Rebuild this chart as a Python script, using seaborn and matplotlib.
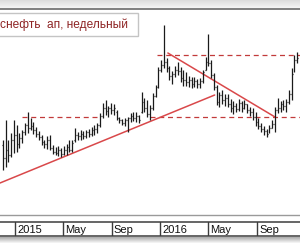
import numpy as np
import pandas as pd
import matplotlib
matplotlib.use("Agg")
import matplotlib.pyplot as plt
import matplotlib.dates as mdates
import seaborn as sns
from matplotlib.patches import Rectangle

# ---------------- data ----------------
title = "снефть  ап, недельный"
start_week = "2014-12-01"
highs = [280, 300, 280, 287, 300, 295, 287, 290, 297, 308,
         302, 298, 293, 289, 285, 280, 284, 285, 275, 273,
         274, 272, 274, 276, 280, 280, 292, 288, 290, 289,
         290, 291, 293, 295, 297, 307, 317, 320, 314, 317,
         316, 310, 303, 301, 302, 303, 307, 308, 308, 305,
         328, 322, 320, 315, 327, 335, 353, 360, 395, 362,
         354, 349, 354, 358, 353, 350, 348, 344, 343, 343,
         341, 342, 350, 363, 386, 360, 347, 335, 328, 330,
         326, 326, 321, 319, 317, 321, 319, 320, 316, 313,
         312, 308, 302, 297, 294, 291, 295, 300, 313, 322,
         319, 320, 321, 330, 352, 365, 368]
lows = [250, 253, 258, 263, 267, 268, 272, 277, 285, 287,
        290, 286, 283, 280, 275, 272, 271, 270, 266, 265,
        264, 263, 265, 265, 268, 268, 278, 280, 280, 281,
        282, 283, 284, 285, 287, 293, 302, 305, 303, 306,
        305, 300, 297, 295, 294, 288, 298, 299, 298, 297,
        307, 308, 303, 300, 310, 323, 332, 348, 352, 348,
        340, 336, 343, 345, 338, 334, 334, 333, 332, 333,
        332, 332, 337, 350, 354, 342, 330, 315, 313, 316,
        314, 313, 308, 306, 308, 309, 308, 311, 307, 304,
        300, 294, 291, 288, 285, 283, 287, 292, 288, 307,
        308, 310, 308, 316, 320, 348, 357]
opens = [275, 262, 270, 265, 280, 285, 276, 282, 288, 295,
         292, 294, 290, 286, 283, 278, 276, 280, 272, 268,
         267, 270, 266, 270, 273, 270, 280, 285, 284, 286,
         284, 288, 286, 290, 291, 295, 304, 312, 309, 312,
         310, 308, 302, 300, 297, 300, 302, 304, 302, 304,
         308, 318, 312, 306, 312, 324, 333, 350, 355, 358,
         352, 344, 346, 350, 349, 342, 340, 338, 340, 336,
         339, 336, 339, 350, 358, 357, 345, 333, 318, 325,
         320, 322, 316, 312, 314, 311, 317, 312, 316, 310,
         308, 303, 298, 294, 291, 289, 287, 292, 296, 310,
         312, 316, 314, 318, 326, 348, 360]
closes = [262, 270, 265, 280, 285, 276, 282, 288, 295, 292,
          294, 290, 286, 283, 278, 276, 280, 272, 268, 267,
          270, 266, 270, 273, 270, 277, 285, 284, 286, 284,
          288, 286, 290, 291, 295, 304, 312, 309, 312, 310,
          312, 302, 300, 297, 300, 302, 304, 302, 304, 300,
          318, 312, 306, 312, 324, 333, 350, 355, 358, 352,
          344, 346, 350, 349, 342, 340, 338, 340, 336, 339,
          336, 339, 348, 358, 357, 345, 333, 318, 325, 320,
          322, 316, 312, 314, 311, 317, 312, 316, 310, 308,
          303, 298, 294, 291, 289, 286, 292, 296, 310, 312,
          316, 314, 318, 326, 346, 360, 362]

tick_labels = ["2015", "May", "Sep", "2016", "May", "Sep"]
tick_dates = ["2015-01-01", "2015-05-01", "2015-09-01",
              "2016-01-01", "2016-05-01", "2016-09-01"]

rise_dates = ["2014-11-24", "2016-05-18"]
rise_vals = [237, 325]
fall_dates = ["2016-01-21", "2016-10-17"]
fall_vals = [367, 303]

level_vals = [303, 365, 303]
level_starts = ["2015-01-18", "2015-12-24", "2015-12-06"]
level_ends = ["2015-08-03", "2016-12-19", "2016-12-19"]

x_start, x_end = "2014-11-24", "2016-12-19"

# ---------------- style ----------------
sns.set_style("white")
plt.rcParams["font.family"] = ["Liberation Sans", "DejaVu Sans"]

W, H = 300, 250
fig = plt.figure(figsize=(W / 100, H / 100), dpi=100)
fig.patch.set_facecolor("white")

xmin = mdates.date2num(pd.Timestamp(x_start))
xmax = mdates.date2num(pd.Timestamp(x_end))

def fr(x0, y0, w, h):
    # pixel rect (top-left origin) -> figure fraction
    return [x0 / W, 1 - (y0 + h) / H, w / W, h / H]

# top gradient band
axg = fig.add_axes(fr(0, 0, W, 9))
grad = np.linspace(0.86, 0.97, 20).reshape(-1, 1)
axg.imshow(grad, aspect="auto", cmap="gray", vmin=0, vmax=1, extent=[0, 1, 0, 1])
axg.set_axis_off()

# main chart axes
ax = fig.add_axes(fr(0, 9, W, 206))
ax.set_xlim(xmin, xmax)
ax.set_ylim(205, 411)
ax.set_xticks([])
ax.set_yticks([])
for s in ["left", "right"]:
    ax.spines[s].set_visible(False)
ax.spines["top"].set_color("#6a6a6a")
ax.spines["top"].set_linewidth(1.2)
ax.spines["bottom"].set_color("#9a9a9a")
ax.spines["bottom"].set_linewidth(1.0)

weeks = pd.date_range(start_week, periods=len(highs), freq="7D")
xd = mdates.date2num(weeks)
df = pd.DataFrame({"date": weeks, "open": opens, "high": highs,
                   "low": lows, "close": closes})

# dashed levels
for v, s0, s1 in zip(level_vals, level_starts, level_ends):
    ax.hlines(v, mdates.date2num(pd.Timestamp(s0)), mdates.date2num(pd.Timestamp(s1)),
              color="#c23a3a", lw=0.9, linestyles=(0, (4, 3)), zorder=2)

# trend lines via seaborn
trend_up = pd.DataFrame({"date": mdates.date2num(pd.to_datetime(rise_dates)), "val": rise_vals})
trend_dn = pd.DataFrame({"date": mdates.date2num(pd.to_datetime(fall_dates)), "val": fall_vals})
sns.lineplot(data=trend_up, x="date", y="val", ax=ax, color="#d9484a", lw=1.1, zorder=2)
sns.lineplot(data=trend_dn, x="date", y="val", ax=ax, color="#d9484a", lw=1.1, zorder=2)

# OHLC bars
tk = 2.2
ax.vlines(xd, df["low"], df["high"], color="#1a1a1a", lw=0.9, zorder=3)
ax.hlines(df["open"], xd - tk, xd, color="#1a1a1a", lw=0.9, zorder=3)
ax.hlines(df["close"], xd, xd + tk, color="#1a1a1a", lw=0.9, zorder=3)
ax.set_xlabel("")
ax.set_ylabel("")
ax.set_xlim(xmin, xmax)
ax.set_ylim(205, 411)

# title box
fig.add_artist(Rectangle((-2 / W, 1 - 36 / H), 140 / W, 23 / H, transform=fig.transFigure,
                         facecolor="white", edgecolor="#c4c4c4", lw=1.0, zorder=10))
fig.text(0 / W, 1 - 25 / H, title, color="#8e2424", fontsize=8.6,
         va="center", ha="left", zorder=11)

# time axis strip
ax2 = fig.add_axes(fr(0, 222, W, 14))
ax2.set_xlim(xmin, xmax)
ax2.set_ylim(0, 1)
ax2.set_xticks([])
ax2.set_yticks([])
for s in ["left", "right"]:
    ax2.spines[s].set_visible(False)
for s in ["top", "bottom"]:
    ax2.spines[s].set_color("#3c3c3c")
    ax2.spines[s].set_linewidth(1.1)
for d, lab in zip(tick_dates, tick_labels):
    xv = mdates.date2num(pd.Timestamp(d))
    ax2.axvline(xv, color="#3c3c3c", lw=1.0)
    ax2.text(xv + 6, 0.45, lab, fontsize=8, color="#111111", va="center", ha="left")

# shadow under strip
axs = fig.add_axes(fr(0, 237, W, 6))
grad2 = np.linspace(0.62, 0.97, 20).reshape(-1, 1)
axs.imshow(grad2, aspect="auto", cmap="gray", vmin=0, vmax=1, extent=[0, 1, 0, 1])
axs.set_axis_off()

fig.savefig("out.png", dpi=100)
